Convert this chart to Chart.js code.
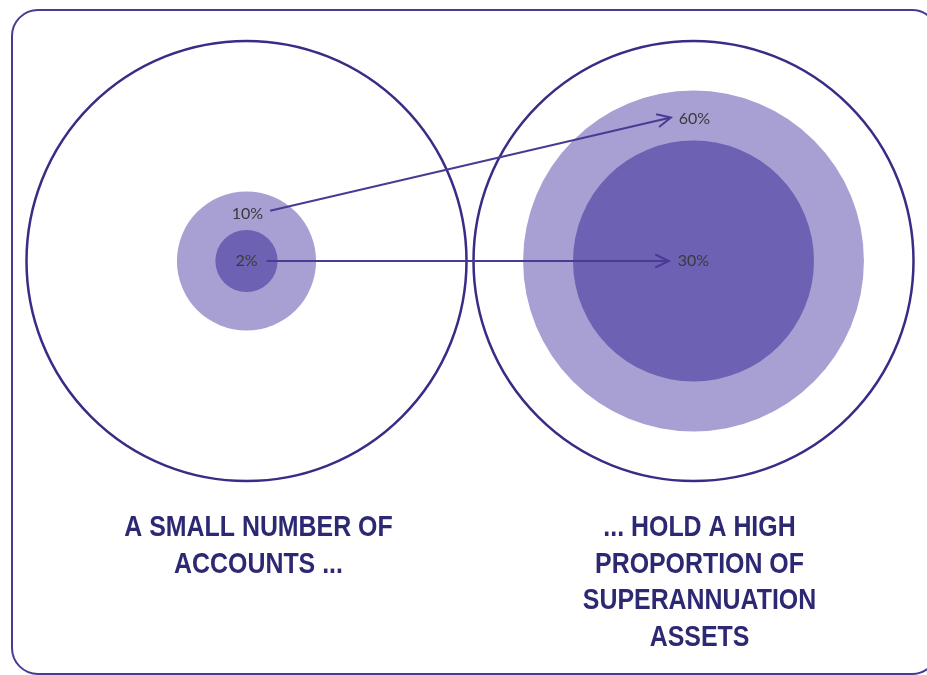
<!DOCTYPE html>
<html>
<head>
<meta charset="utf-8">
<script src="https://cdn.jsdelivr.net/npm/chart.js@4/dist/chart.umd.min.js"></script>
<style>
  html, body { margin: 0; padding: 0; background: #fff; }
  #wrap { width: 927px; height: 675px; position: relative; }
</style>
</head>
<body>
<div id="wrap"><canvas id="circles"></canvas></div>
<script>
// two groups: share of accounts (left) and share of assets (right)
const groupLabels = [
    ["A SMALL NUMBER OF", "ACCOUNTS ..."],
    ["... HOLD A HIGH", "PROPORTION OF", "SUPERANNUATION", "ASSETS"]
];
const wholeShare = [100, 100];
const top10Share = [10, 60];
const top2Share = [2, 30];

const ink = "#3b2b86";
const lightFill = "#a89fd3";
const darkFill = "#6d61b3";
const pad = { top: 14, bottom: 12, left: 23, right: 10 };

function points(shares) {
    return shares.map((s, i) => ({ x: i, y: 0, share: s }));
}

// circle area proportional to share; full circle fills a quarter of the plot width
function shareRadius(ctx) {
    if (!ctx.raw) return 0;
    const w = ctx.chart.width - pad.left - pad.right;
    const R = w / 4 - 3.5;
    return R * Math.sqrt(ctx.raw.share / 100);
}

const frame = {
    id: "frame",
    beforeDraw(chart) {
        const c = chart.ctx;
        c.save();
        c.fillStyle = "#fff";
        c.fillRect(0, 0, chart.width, chart.height);
        c.strokeStyle = "#4a3a92";
        c.lineWidth = 2;
        c.beginPath();
        c.roundRect(12, 10, 926, 664, 26);
        c.stroke();
        c.restore();
    }
};

// the captions use a narrow bold face, squeezed from Liberation Sans Bold
const groupCaptions = {
    id: "groupCaptions",
    afterDraw(chart) {
        const c = chart.ctx;
        const xs = chart.scales.x;
        const squeeze = 0.83, lineH = 36.5;
        const nudge = [12, 6];
        c.save();
        c.font = "bold 30px 'Liberation Sans', Arial, sans-serif";
        c.fillStyle = "#2c2872";
        c.textAlign = "center";
        c.textBaseline = "middle";
        chart.data.labels.forEach((lines, i) => {
            const cx = xs.getPixelForValue(i) + nudge[i];
            lines.forEach((t, k) => {
                c.save();
                c.translate(cx, xs.top + 20 + k * lineH);
                c.scale(squeeze, 1);
                c.fillText(t, 0, 0);
                c.restore();
            });
        });
        c.restore();
    }
};

function arrow(c, x1, y1, x2, y2) {
    const ang = Math.atan2(y2 - y1, x2 - x1);
    const len = 15, spread = 0.45;
    c.beginPath();
    c.moveTo(x1, y1);
    c.lineTo(x2, y2);
    c.moveTo(x2 - len * Math.cos(ang - spread), y2 - len * Math.sin(ang - spread));
    c.lineTo(x2, y2);
    c.lineTo(x2 - len * Math.cos(ang + spread), y2 - len * Math.sin(ang + spread));
    c.stroke();
}

const shareLabels = {
    id: "shareLabels",
    afterDatasetsDraw(chart) {
        const c = chart.ctx;
        const dark = chart.getDatasetMeta(0).data;
        const light = chart.getDatasetMeta(1).data;
        c.save();
        c.font = "16px Lato, 'Open Sans', sans-serif";
        c.fillStyle = "#3a3a3a";
        c.textAlign = "center";
        c.textBaseline = "middle";

        const spots = [];
        for (let i = 0; i < 2; i++) {
            const d = dark[i], l = light[i];
            const rd = d.options.radius, rl = l.options.radius;
            const lightTxt = top10Share[i] + "%";
            const darkTxt = top2Share[i] + "%";
            const ly = l.y - (rl + rd) / 2 + 3;
            c.fillText(lightTxt, l.x + 1, ly);
            c.fillText(darkTxt, d.x, d.y);
            spots.push({
                light: { x: l.x + 1, y: ly, w: c.measureText(lightTxt).width },
                dark: { x: d.x, y: d.y, w: c.measureText(darkTxt).width }
            });
        }

        c.strokeStyle = "#4a3a94";
        c.lineWidth = 2;
        const a = spots[0], b = spots[1];
        arrow(c, a.light.x + a.light.w / 2 + 7, a.light.y - 3, b.light.x - b.light.w / 2 - 8, b.light.y - 1);
        arrow(c, a.dark.x + a.dark.w / 2 + 9, a.dark.y, b.dark.x - b.dark.w / 2 - 9, b.dark.y);
        c.restore();
    }
};

new Chart(document.getElementById("circles"), {
    type: "bubble",
    data: {
        labels: groupLabels,
        datasets: [
            {
                label: "Top 2%",
                data: points(top2Share),
                backgroundColor: darkFill,
                borderWidth: 0,
                radius: shareRadius,
                clip: false,
                order: 0
            },
            {
                label: "Top 10%",
                data: points(top10Share),
                backgroundColor: lightFill,
                borderWidth: 0,
                radius: shareRadius,
                clip: false,
                order: 1
            },
            {
                label: "All",
                data: points(wholeShare),
                backgroundColor: "rgba(255,255,255,0)",
                borderColor: ink,
                borderWidth: 2.5,
                radius: shareRadius,
                clip: false,
                order: 2
            }
        ]
    },
    options: {
        responsive: true,
        maintainAspectRatio: false,
        animation: false,
        events: [],
        layout: { padding: pad, autoPadding: false },
        plugins: {
            legend: { display: false },
            tooltip: { enabled: false }
        },
        scales: {
            x: {
                type: "category",
                offset: true,
                grid: { display: false, drawTicks: false },
                border: { display: false },
                ticks: { display: false },
                afterFit: s => { s.height = 155; }
            },
            y: {
                display: false,
                min: -1,
                max: 1
            }
        }
    },
    plugins: [frame, shareLabels, groupCaptions]
});
</script>
</body>
</html>
